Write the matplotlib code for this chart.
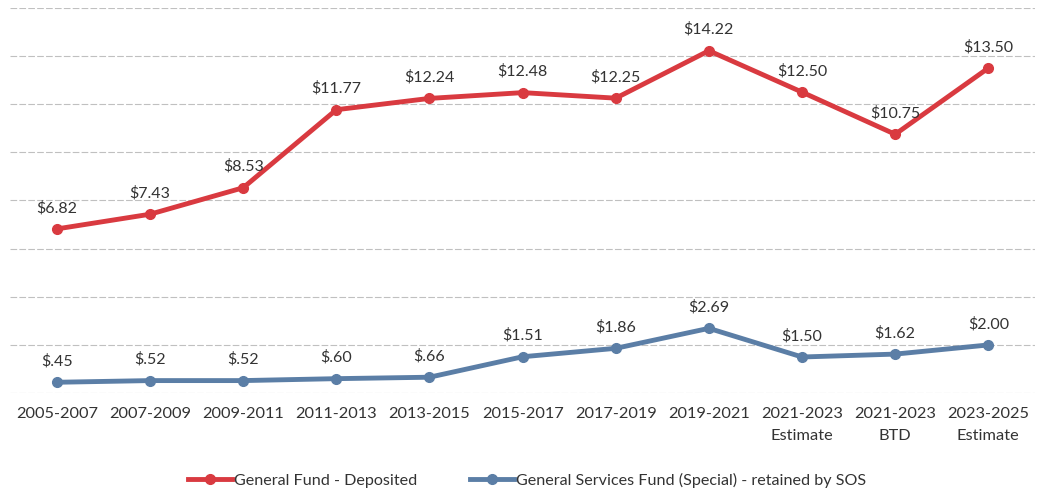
import numpy as np
import matplotlib.pyplot as plt

# periods and values (millions)
periods = ['2005-2007', '2007-2009', '2009-2011', '2011-2013', '2013-2015',
           '2015-2017', '2017-2019', '2019-2021', '2021-2023\nEstimate',
           '2021-2023\nBTD', '2023-2025\nEstimate']
general_fund = [6.82, 7.43, 8.53, 11.77, 12.24, 12.48, 12.25, 14.22, 12.50, 10.75, 13.50]
services_fund = [0.45, 0.52, 0.52, 0.60, 0.66, 1.51, 1.86, 2.69, 1.50, 1.62, 2.00]

def money(v):
    s = f'${v:.2f}'
    return s.replace('$0.', '$.')

plt.rcParams['font.family'] = ['Lato', 'DejaVu Sans']

fig = plt.figure(figsize=(10.38, 4.92), dpi=100)
ax = fig.add_axes([0.01, 0.201, 0.987, 0.783])

x = np.arange(len(periods))
red = '#d93a40'
blue = '#5b7ea6'
ax.plot(x, general_fund, color=red, lw=3.5, marker='o', ms=7,
        label='General Fund - Deposited')
ax.plot(x, services_fund, color=blue, lw=3.5, marker='o', ms=7,
        label='General Services Fund (Special) - retained by SOS')

for xi, v in zip(x, general_fund):
    ax.annotate(money(v), (xi, v), xytext=(0, 10), textcoords='offset points',
                ha='center', va='bottom', fontsize=11.5, color='#333333')
for xi, v in zip(x, services_fund):
    ax.annotate(money(v), (xi, v), xytext=(0, 10), textcoords='offset points',
                ha='center', va='bottom', fontsize=11.5, color='#333333')

ax.set_xlim(-0.5, len(periods) - 0.5)
ax.set_ylim(0, 16)
ax.set_yticks(np.arange(0, 17, 2))
ax.yaxis.grid(True, color='#c0c0c0', lw=0.8, ls=(0, (6, 2)))
ax.set_axisbelow(True)
ax.tick_params(axis='y', left=False, labelleft=False)
ax.tick_params(axis='x', length=0, pad=10, labelsize=11.8, labelcolor='#333333')
ax.set_xticks(x)
ax.set_xticklabels(periods, linespacing=1.75)
for s in ax.spines.values():
    s.set_visible(False)

fig.legend(loc='center', bbox_to_anchor=(0.508, 0.024), ncol=2, frameon=False,
           fontsize=11.6, handlelength=2.7, handletextpad=0.15, columnspacing=3.3,
           labelcolor='#333333')

plt.savefig('out.png', dpi=100)
